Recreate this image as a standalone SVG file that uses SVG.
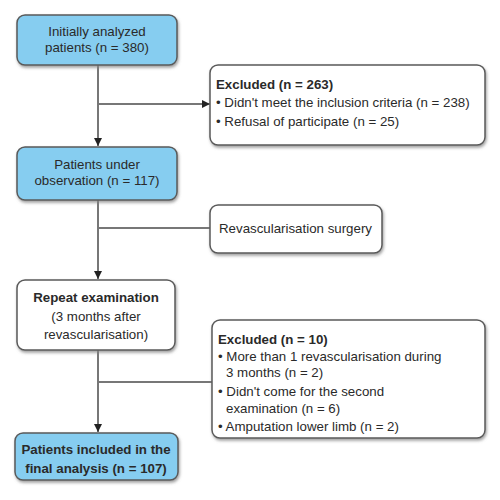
<svg xmlns="http://www.w3.org/2000/svg" width="500" height="500" viewBox="0 0 500 500">
<style>
.box{stroke:#5a5a5a;stroke-width:1.5;filter:url(#sh)}
.blue{fill:#86cdf0}
.white{fill:#ffffff}
.t{font-family:"Liberation Sans",Arial,sans-serif;font-size:13.3px;fill:#2a2a2a}
.c{text-anchor:middle}
.b{font-weight:bold}
.ln{stroke:#777;stroke-width:2;fill:none}
</style>
<defs>
<filter id="sh" x="-10%" y="-10%" width="120%" height="130%">
<feDropShadow dx="1" dy="2" stdDeviation="1.5" flood-color="#888" flood-opacity="0.8"/>
</filter>
<marker id="ar" viewBox="0 0 10 10" refX="10" refY="5" markerWidth="4" markerHeight="4" orient="auto" markerUnits="strokeWidth">
<path d="M0,0 L10,5 L0,10 z" fill="#222"/>
</marker>
</defs>
<g id="connectors">
<line class="ln" x1="98" y1="65" x2="98" y2="146" marker-end="url(#ar)"/>
<line class="ln" x1="98" y1="104" x2="210" y2="104" marker-end="url(#ar)"/>
<line class="ln" x1="98" y1="200" x2="98" y2="279" marker-end="url(#ar)"/>
<line class="ln" x1="98" y1="228" x2="210" y2="228"/>
<line class="ln" x1="98" y1="350" x2="98" y2="432" marker-end="url(#ar)"/>
<line class="ln" x1="98" y1="382" x2="212" y2="382"/>
</g>
<g id="n1">
<rect class="box blue" x="17" y="15" width="160" height="50" rx="8"/>
<text class="t c" x="97" y="36">Initially analyzed</text>
<text class="t c" x="97" y="52">patients (n = 380)</text>
</g>
<g id="n2">
<rect class="box white" x="210" y="65" width="275" height="80" rx="8"/>
<text class="t b" x="216" y="89">Excluded (n = 263)</text>
<text class="t" x="216" y="107">• Didn't meet the inclusion criteria (n = 238)</text>
<text class="t" x="216" y="126">• Refusal of participate (n = 25)</text>
</g>
<g id="n3">
<rect class="box blue" x="17" y="147" width="160" height="53" rx="8"/>
<text class="t c" x="97" y="169">Patients under</text>
<text class="t c" x="97" y="185">observation (n = 117)</text>
</g>
<g id="n4">
<rect class="box white" x="210" y="205" width="172" height="48" rx="8"/>
<text class="t" x="219" y="233">Revascularisation surgery</text>
</g>
<g id="n5">
<rect class="box white" x="17" y="280" width="158" height="70" rx="8"/>
<text class="t c b" x="96" y="302">Repeat examination</text>
<text class="t c" x="96" y="321">(3 months after</text>
<text class="t c" x="96" y="339">revascularisation)</text>
</g>
<g id="n6">
<rect class="box white" x="212" y="320" width="273" height="118" rx="8"/>
<text class="t b" x="218" y="344">Excluded (n = 10)</text>
<text class="t" x="218" y="361">• More than 1 revascularisation during</text>
<text class="t" x="226" y="377">3 months (n = 2)</text>
<text class="t" x="218" y="396">• Didn't come for the second</text>
<text class="t" x="226" y="413">examination (n = 6)</text>
<text class="t" x="218" y="431">• Amputation lower limb (n = 2)</text>
</g>
<g id="n7">
<rect class="box blue" x="15" y="433" width="163" height="47" rx="8"/>
<text class="t c b" x="96" y="454">Patients included in the</text>
<text class="t c b" x="96" y="473">final analysis (n = 107)</text>
</g>
</svg>
